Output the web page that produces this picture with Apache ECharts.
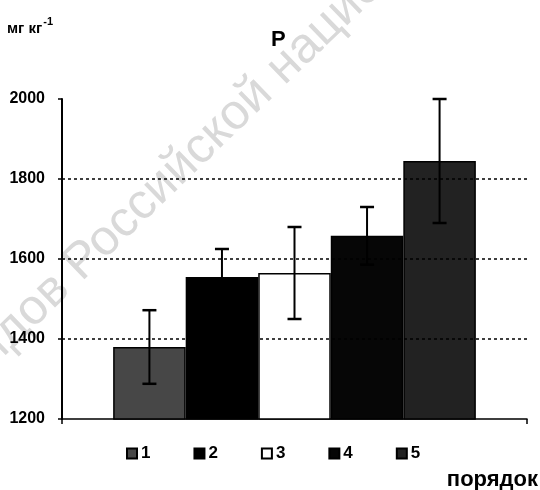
<!DOCTYPE html>
<html>
<head>
<meta charset="utf-8">
<script src="https://cdn.jsdelivr.net/npm/echarts@6/dist/echarts.min.js"></script>
<style>html,body{margin:0;padding:0;background:#fff}#c{width:540px;height:490px}</style>
</head>
<body>
<div id="c"></div>
<script>
// ---- data ----
var seriesNames = ['1', '2', '3', '4', '5'];
var means = [1380, 1555, 1565, 1658, 1845];
var errors = [92, 70, 115, 72, 155];
var yTicks = [1200, 1400, 1600, 1800, 2000];
var gridValues = [1400, 1600, 1800];
var titleText = 'P';
var unitText = 'мг кг';
var unitSup = '-1';
var xName = 'порядок';
var watermarkBefore = 'фондов';
var watermarkAfter = 'Российской национальной библиотеки';

var colors = ['#474747', '#000000', '#ffffff', '#060606', '#222222'];
var FONT = '"Liberation Sans", Arial, sans-serif';
var GAP = 0.22;

var chart = echarts.init(document.getElementById('c'), null, {renderer: 'canvas'});

var series = [];
// dummy series carrying dashed grid lines (under bars)
series.push({
  name: '_grid', type: 'line', data: [], z: 1, silent: true,
  markLine: {
    silent: true, symbol: ['none', 'none'], label: {show: false},
    lineStyle: {color: '#000', width: 1.5, type: [3, 3]},
    emphasis: {disabled: true},
    data: gridValues.map(function (v) { return {yAxis: v}; })
  }
});
seriesNames.forEach(function (n, i) {
  series.push({
    name: n, type: 'bar', z: 3,
    barGap: 0, barCategoryGap: (GAP * 100) + '%',
    data: [means[i]],
    itemStyle: {color: colors[i], borderColor: '#000', borderWidth: 1.5},
    emphasis: {disabled: true}
  });
});
series.push({
  name: '_err', type: 'custom', z: 5, silent: true,
  encode: {x: 0, y: [2, 3]},
  data: means.map(function (m, i) { return [0, i, m - errors[i], m + errors[i]]; }),
  renderItem: function (params, api) {
    var idx = api.value(1);
    var lo = api.coord([api.value(0), api.value(2)]);
    var hi = api.coord([api.value(0), api.value(3)]);
    var band = api.size([1, 0])[0];
    var bw = band * (1 - GAP) / seriesNames.length;
    var x = lo[0] + (idx - (seriesNames.length - 1) / 2) * bw;
    var cap = 7;
    var st = {stroke: '#000', lineWidth: 2};
    return {type: 'group', children: [
      {type: 'line', shape: {x1: x, y1: lo[1], x2: x, y2: hi[1]}, style: st},
      {type: 'line', shape: {x1: x - cap, y1: hi[1], x2: x + cap, y2: hi[1]}, style: {stroke: '#000', lineWidth: 2.5}},
      {type: 'line', shape: {x1: x - cap, y1: lo[1], x2: x + cap, y2: lo[1]}, style: {stroke: '#000', lineWidth: 2.5}}
    ]};
  }
});

var option = {
  animation: false,
  backgroundColor: '#fff',
  textStyle: {fontFamily: FONT},
  grid: {left: 62, right: 13, top: 99, bottom: 71, containLabel: false},
  title: {
    text: titleText, left: 266, top: 24,
    textStyle: {fontFamily: FONT, fontSize: 22, fontWeight: 'bold', color: '#000'}
  },
  legend: {
    data: seriesNames, left: 121, top: 440, icon: 'rect',
    itemWidth: 10, itemHeight: 10, itemGap: 43,
    textStyle: {fontFamily: FONT, fontSize: 17, fontWeight: 'bold', color: '#000', padding: [0, 0, 0, -1]},
    selectedMode: false
  },
  xAxis: {
    type: 'category', data: [''],
    axisLine: {lineStyle: {color: '#000', width: 1.5}},
    axisTick: {show: true, length: 5, lineStyle: {color: '#000', width: 1.5}},
    axisLabel: {show: false}
  },
  yAxis: {
    type: 'value', min: yTicks[0], max: yTicks[yTicks.length - 1], interval: yTicks[1] - yTicks[0],
    axisLine: {show: true, lineStyle: {color: '#000', width: 2}},
    axisTick: {show: true, length: 4, lineStyle: {color: '#000', width: 1.5}},
    splitLine: {show: false},
    axisLabel: {
      margin: 17, color: '#000', fontFamily: FONT, fontSize: 16, fontWeight: 'bold',
      formatter: function (v) { return String(v); }
    }
  },
  graphic: [
    {
      type: 'group', x: 72, y: 272, rotation: 44 * Math.PI / 180, z: -10, silent: true,
      children: [
        {type: 'text', x: -14, y: 0, style: {text: watermarkBefore, font: 'normal 50px ' + FONT, fill: '#d9d9d9', textAlign: 'right', textVerticalAlign: 'middle'}},
        {type: 'text', x: 0, y: 0, style: {text: watermarkAfter, font: 'normal 50px ' + FONT, fill: '#d9d9d9', textAlign: 'left', textVerticalAlign: 'middle'}}
      ]
    },
    {
      type: 'text', left: 7, top: 16, silent: true,
      style: {
        text: '{a|' + unitText + '}{s|' + unitSup + '}',
        rich: {
          a: {fontFamily: FONT, fontSize: 15, fontWeight: 'bold', fill: '#000', verticalAlign: 'bottom', lineHeight: 20},
          s: {fontFamily: FONT, fontSize: 11, fontWeight: 'bold', fill: '#000', verticalAlign: 'top', lineHeight: 20, padding: [0, 0, 8, 1]}
        }
      }
    },
    {
      type: 'text', right: 2, top: 469, silent: true,
      style: {text: xName, font: 'bold 22px ' + FONT, fill: '#000'}
    }
  ],
  series: series
};
chart.setOption(option);
</script>
</body>
</html>
